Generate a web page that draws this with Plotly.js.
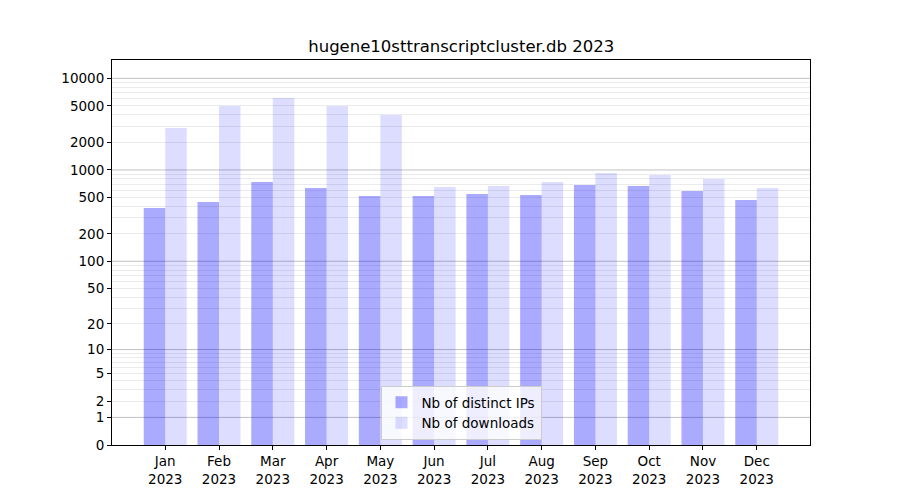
<!DOCTYPE html>
<html>
<head>
<meta charset="utf-8">
<script src="https://cdn.plot.ly/plotly-3.0.1.min.js"></script>
<style>html,body{margin:0;padding:0;background:#fff}#chart{width:900px;height:500px}</style>
</head>
<body>
<div id="chart"></div>
<script>
const months = ["Jan","Feb","Mar","Apr","May","Jun","Jul","Aug","Sep","Oct","Nov","Dec"];
const year = "2023";
const distinctIPs = [384, 447, 740, 636, 520, 521, 547, 533, 686, 669, 590, 471];
const downloads = [2880, 5000, 6110, 5000, 3990, 652, 669, 740, 928, 882, 798, 636];
const yTickLabels = [0, 1, 2, 5, 10, 20, 50, 100, 200, 500, 1000, 2000, 5000, 10000];
const decades = [1, 10, 100, 1000, 10000];
const minorSteps = [2, 3, 4, 5, 6, 7, 8, 9];

// y axis scale: log10(y + 1)
const tf = v => Math.log10(v + 1);

const xLabels = months.map(m => m + "<br>" + year);
const minorVals = [];
decades.slice(0, 4).forEach(d => minorSteps.forEach(s => minorVals.push(tf(d * s))));

const FONT = "DejaVu Sans, sans-serif";

const traces = [
  {
    type: "bar", name: "Nb of distinct IPs", x: xLabels, y: distinctIPs.map(tf),
    customdata: distinctIPs, hovertemplate: "%{customdata}<extra></extra>",
    marker: {color: "rgba(0,0,255,0.333)", line: {width: 0}}
  },
  {
    type: "bar", name: "Nb of downloads", x: xLabels, y: downloads.map(tf),
    customdata: downloads, hovertemplate: "%{customdata}<extra></extra>",
    marker: {color: "rgba(0,0,255,0.133)", line: {width: 0}}
  }
];

const shapes = decades.map(d => ({
  type: "line", xref: "paper", x0: 0, x1: 1, yref: "y", y0: tf(d), y1: tf(d),
  line: {color: "rgba(150,150,150,0.6)", width: 1}, layer: "below"
}));

const layout = {
  width: 900, height: 500,
  margin: {l: 112, r: 90, t: 60, b: 55, pad: 0},
  paper_bgcolor: "#fff", plot_bgcolor: "#fff",
  font: {family: FONT, size: 13.5, color: "#000"},
  title: {text: "hugene10sttranscriptcluster.db 2023", font: {family: FONT, size: 16.5, color: "#000"},
          x: 0.5125, xanchor: "center", y: 0.908, yref: "container", yanchor: "middle"},
  barmode: "group", bargap: 0.2, bargroupgap: 0,
  showlegend: true,
  legend: {x: 0.5, xanchor: "center", y: 0.013, yanchor: "bottom", bgcolor: "rgba(255,255,255,0.8)",
           bordercolor: "#cccccc", borderwidth: 1, font: {family: FONT, size: 13.5, color: "#000"},
           traceorder: "normal", tracegroupgap: 0},
  xaxis: {
    type: "category", range: [-0.99, 11.99], showgrid: false, zeroline: false,
    showline: true, linecolor: "#000", linewidth: 1, mirror: true,
    ticks: "outside", ticklen: 4, tickwidth: 1, tickcolor: "#000",
    tickfont: {family: FONT, size: 13.5, color: "#000"}
  },
  yaxis: {
    range: [0, 4.2], showgrid: false, zeroline: false,
    showline: true, linecolor: "#000", linewidth: 1, mirror: true,
    tickmode: "array", tickvals: yTickLabels.map(tf), ticktext: yTickLabels.map(String),
    ticks: "outside", ticklen: 4, tickwidth: 1, tickcolor: "#000",
    tickfont: {family: FONT, size: 13.5, color: "#000"},
    minor: {tickmode: "array", tickvals: minorVals, showgrid: true, gridcolor: "#ebebeb", gridwidth: 1, ticks: ""}
  },
  shapes: shapes
};

Plotly.newPlot("chart", traces, layout, {displayModeBar: false, staticPlot: true});
</script>
</body>
</html>
